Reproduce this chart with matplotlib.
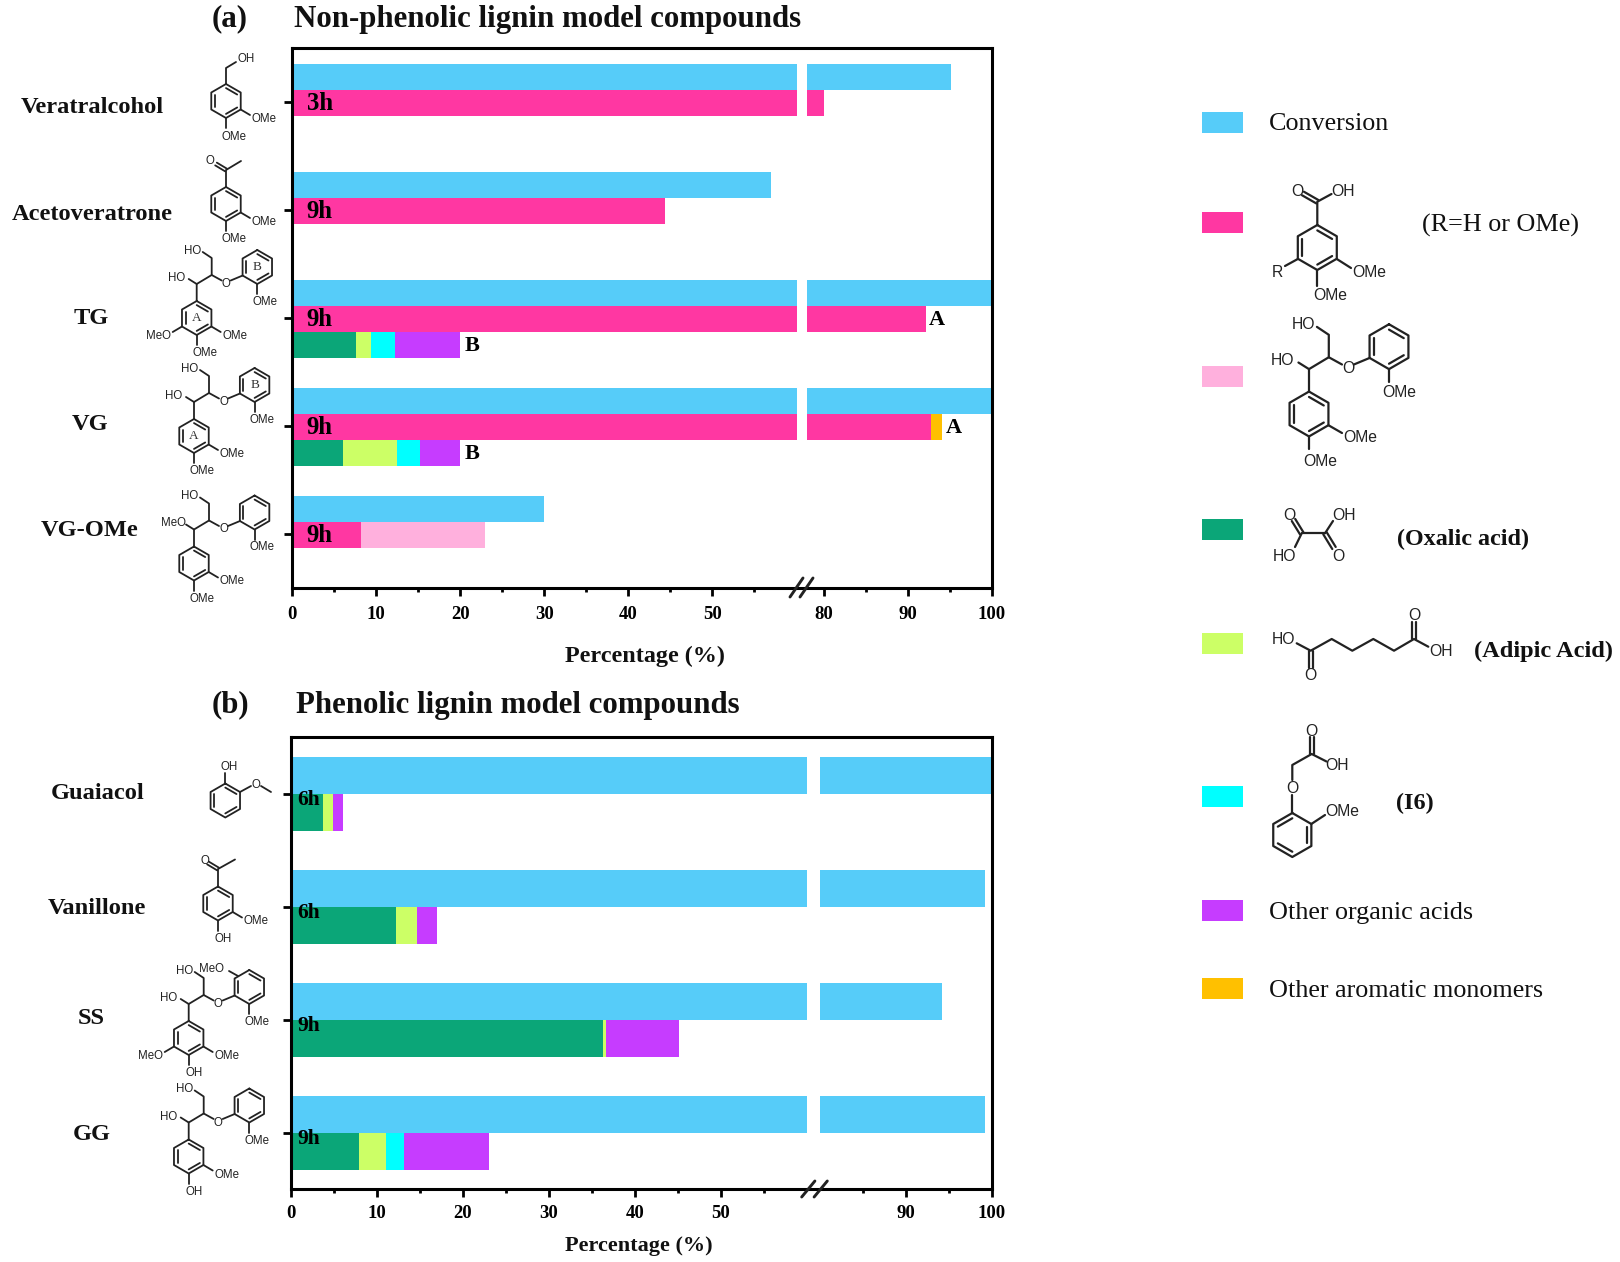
import numpy as np
import matplotlib
matplotlib.use("Agg")
import matplotlib.pyplot as plt
from matplotlib.patches import Rectangle

# ---------- data ----------
compounds_a = ["Veratralcohol", "Acetoveratrone", "TG", "VG", "VG-OMe"]
hours_a = ["3h", "9h", "9h", "9h", "9h"]
conversion_a = [95.1, 57, 100, 100, 30]
benzoic_a = [80, 44.4, 92.1, 92.7, 8.2]
dimer_a = [0, 0, 0, 0, 14.7]
aromatic_a = [0, 0, 0, 1.4, 0]
oxalic_a = [0, 0, 7.6, 6.1, 0]
adipic_a = [0, 0, 1.8, 6.4, 0]
i6_a = [0, 0, 2.8, 2.7, 0]
organic_a = [0, 0, 7.8, 4.8, 0]
tag_a = {2: ("A", "B"), 3: ("A", "B")}

compounds_b = ["Guaiacol", "Vanillone", "SS", "GG"]
hours_b = ["6h", "6h", "9h", "9h"]
conversion_b = [100, 99.2, 94.2, 99.2]
oxalic_b = [3.7, 12.2, 36.3, 7.9]
adipic_b = [1.15, 2.5, 0.3, 3.1]
i6_b = [0, 0, 0, 2.1]
organic_b = [1.15, 2.3, 8.5, 9.9]

C_CONV, C_PINK, C_LPINK, C_GREEN = "#56CCF9", "#FF37A2", "#FFB0DD", "#0BA678"
C_YEL, C_CYAN, C_PURP, C_ORNG = "#CCFF66", "#00FFFF", "#C63CFF", "#FFC000"

SERIF = "Liberation Serif"
SANS = "Liberation Sans"
plt.rcParams["font.family"] = SERIF
W, H = 1620, 1262
fig = plt.figure(figsize=(W / 100, H / 100), dpi=100, facecolor="white")


def make_axes(left, right, top, bottom):
    return fig.add_axes([left / W, 1 - bottom / H, (right - left) / W, (bottom - top) / H])


def break_scale(ax, lo, hi, gap):
    def fwd(x):
        x = np.asarray(x, dtype=float)
        return np.where(x <= lo, x, np.where(x >= hi, lo + gap + (x - hi), lo + (x - lo) * gap / (hi - lo)))

    def inv(v):
        v = np.asarray(v, dtype=float)
        return np.where(v <= lo, v, np.where(v >= lo + gap, hi + (v - lo - gap), lo + (v - lo) * (hi - lo) / gap))

    ax.set_xscale("function", functions=(fwd, inv))
    ax.set_xlim(0, 100)


def stack(ax, y, h, series):
    left = np.zeros(len(y))
    for vals, col in series:
        ax.barh(y, vals, height=h, left=left, color=col, linewidth=0, zorder=1)
        left = left + np.array(vals)
    return left


def style(ax, major, minor, n, pad):
    ax.set_ylim(n - 0.5, -0.5)
    ax.set_yticks(range(n))
    ax.set_yticklabels([])
    ax.set_xticks(major)
    ax.set_xticklabels([str(m) for m in major], fontsize=13.5, fontweight="bold")
    ax.set_xticks(minor, minor=True)
    ax.tick_params(axis="x", which="major", length=6, width=2.0, pad=pad)
    ax.tick_params(axis="x", which="minor", length=3, width=2.0)
    ax.tick_params(axis="y", which="major", length=6, width=2.0)
    for s in ax.spines.values():
        s.set_linewidth(2.2)


# ---------- panel (a) ----------
axa = make_axes(292, 992, 48, 588)
break_scale(axa, 60, 78, 1.25)
ya = np.arange(len(compounds_a), dtype=float) + 0.01
ha = 26 / 108
stack(axa, ya - ha, ha, [(conversion_a, C_CONV)])
end_a = stack(axa, ya, ha, [(benzoic_a, C_PINK), (dimer_a, C_LPINK), (aromatic_a, C_ORNG)])
end_a2 = stack(axa, ya + ha, ha, [(oxalic_a, C_GREEN), (adipic_a, C_YEL), (i6_a, C_CYAN), (organic_a, C_PURP)])
axa.axvspan(60, 78, color="white", lw=0, zorder=2)
style(axa, [0, 10, 20, 30, 40, 50, 80, 90, 100], [5, 15, 25, 35, 45, 55, 85, 95], len(compounds_a), 7)
for i, t in enumerate(hours_a):
    axa.text(1.75, i + 0.012, t, fontsize=17.8, fontweight="bold", va="center", ha="left", zorder=5)
for i, (ta, tb) in tag_a.items():
    axa.annotate(ta, (end_a[i], i + 0.015), xytext=(2.5, 0), textcoords="offset points", fontsize=16,
                 fontweight="bold", va="center", ha="left", zorder=5)
    axa.annotate(tb, (end_a2[i], i + ha + 0.015), xytext=(3, 0), textcoords="offset points", fontsize=16,
                 fontweight="bold", va="center", ha="left", zorder=5)

# ---------- panel (b) ----------
axb = make_axes(291, 992, 737, 1189)
break_scale(axb, 60, 80, 1.5)
yb = np.arange(len(compounds_b), dtype=float)
hb = 37 / 113
stack(axb, yb - hb / 2, hb, [(conversion_b, C_CONV)])
stack(axb, yb + hb / 2, hb, [(oxalic_b, C_GREEN), (adipic_b, C_YEL), (i6_b, C_CYAN), (organic_b, C_PURP)])
axb.axvspan(60, 80, color="white", lw=0, zorder=2)
style(axb, [0, 10, 20, 30, 40, 50, 90, 100], [5, 15, 25, 35, 45, 55, 85, 95], len(compounds_b), 5.5)
for i, t in enumerate(hours_b):
    axb.text(0.75, i + 0.055, t, fontsize=15.5, fontweight="bold", va="center", ha="left", zorder=5)

# ---------- overlay in pixel coordinates (titles, legend, structures) ----------
ov = fig.add_axes([0, 0, 1, 1], zorder=10)
ov.set_xlim(0, W)
ov.set_ylim(H, 0)
ov.axis("off")
ov.patch.set_alpha(0)


def T(x, y, s, fs=17.6, bold=True, ha="left", fam=SERIF):
    ov.text(x, y + 4, s, fontsize=fs, fontweight="bold" if bold else "normal", ha=ha, va="center", family=fam,
            color="#111111")


def L(*pts, lw=1.3):
    xs, ys = zip(*pts)
    ov.plot(xs, ys, color="#222222", lw=lw, solid_capstyle="round", solid_joinstyle="round")


def D(p, q, off=2.2, lw=1.3):
    """double bond"""
    p, q = np.array(p, float), np.array(q, float)
    n = np.array([-(q - p)[1], (q - p)[0]])
    n = n / np.hypot(*n) * off
    L(tuple(p + n), tuple(q + n), lw=lw)
    L(tuple(p - n), tuple(q - n), lw=lw)


def ring(cx, cy, R=17, doubles=(0, 2, 4), lw=1.3):
    a = np.deg2rad(np.arange(-90, 271, 60))
    vx, vy = cx + R * np.cos(a), cy + R * np.sin(a)
    L(*zip(vx, vy), lw=lw)
    for k in doubles:
        f = 0.76
        p = (cx + f * (vx[k] - cx), cy + f * (vy[k] - cy))
        q = (cx + f * (vx[k + 1] - cx), cy + f * (vy[k + 1] - cy))
        L(p, q, lw=lw)


def chem(x, y, s, fs=8.3, ha="center"):
    ov.text(x, y + 1, s, fontsize=fs, ha=ha, va="center", family=SANS, color="#222222")


def dimer(ax_, ay, s=1.0, alpha="HO", letters=False, fs=8.3, lw=1.3):
    P = lambda dx, dy: (ax_ + dx * s, ay + dy * s)
    ring(ax_, ay, 17 * s, doubles=(0, 2, 4), lw=lw)
    rbx, rby = P(60.6, -51)
    ring(rbx, rby, 17 * s, doubles=(0, 2, 4), lw=lw)
    L(P(0, -17), P(0, -34), P(15, -43), P(15, -60), P(6, -66), lw=lw)
    L(P(0, -34), P(-8, -39), lw=lw)
    L(P(15, -43), P(25, -37.5), lw=lw)
    L(P(34, -37.5), P(46, -42.5), lw=lw)
    L(P(60.6, -34), P(60.6, -24), lw=lw)
    chem(*P(-4, -68.5), "HO", fs)
    chem(*P(29.5, -35), "O", fs)
    chem(*P(68, -17), "OMe", fs)
    chem(*P(-20 if alpha == "HO" else -21, -41), alpha, fs)
    if letters:
        ov.text(*P(0, 0), "A", fontsize=9.5, ha="center", va="center", family=SERIF, color="#333333")
        ov.text(rbx, rby, "B", fontsize=9.5, ha="center", va="center", family=SERIF, color="#333333")


def sub_right(cx, cy, s=1.0, fs=8.3, lw=1.3):
    L((cx + 14.7 * s, cy + 8.5 * s), (cx + 24 * s, cy + 14 * s), lw=lw)
    chem(cx + 38.5 * s, cy + 17 * s, "OMe", fs)


def sub_left(cx, cy, txt="MeO", fs=8.3, lw=1.3):
    L((cx - 14.7, cy + 8.5), (cx - 24, cy + 14), lw=lw)
    chem(cx - 38.5, cy + 17, txt, fs)


def sub_bottom(cx, cy, txt="OMe", fs=8.3, s=1.0, lw=1.3, dx=8):
    L((cx, cy + 17 * s), (cx, cy + 27 * s), lw=lw)
    chem(cx + dx * s, cy + 34.5 * s, txt, fs)


# titles
T(212, 15, "(a)", 22.2)
T(294, 15, "Non-phenolic lignin model compounds", 22.2)
T(212, 701, "(b)", 22.2)
T(296, 701, "Phenolic lignin model compounds", 22.2)
T(645, 652, "Percentage (%)", 17.4, ha="center")
T(639, 1242.5, "Percentage (%)", 16, ha="center")

# category labels
cat_pos_a = [(92, 103.5), (92.5, 210), (91, 315), (90, 420.5), (90, 526)]
for name, (x, y) in zip(compounds_a, cat_pos_a):
    T(x, y, name, ha="center")
cat_pos_b = [(98, 789.5), (97, 904.5), (91, 1014.5), (92, 1131)]
for name, (x, y) in zip(compounds_b, cat_pos_b):
    T(x, y, name, ha="center")

# axis-break marks
for x, y, dx, dy in [(796.5, 587.5, 6.5, 9.5), (806.5, 587.5, 6.5, 9.5), (808.3, 1189, 6.6, 8), (820.7, 1189, 6.6, 8)]:
    L((x - dx, y + dy), (x + dx, y - dy), lw=2.1)

# legend swatches
swatches = [(112, C_CONV), (212.3, C_PINK), (366, C_LPINK), (519, C_GREEN), (632.7, C_YEL),
            (786, C_CYAN), (900.3, C_PURP), (977.7, C_ORNG)]
for y, c in swatches:
    ov.add_patch(Rectangle((1201.7, y), 41.6, 20.8, facecolor=c, edgecolor="none"))
T(1269, 120, "Conversion", 18.85, bold=False)
T(1421.7, 221.5, "(R=H or OMe)", 18.85, bold=False)
T(1396.7, 535.5, "(Oxalic acid)", 17.4)
T(1474, 647, "(Adipic Acid)", 17.6)
T(1396, 799, "(I6)", 17.4)
T(1269, 908.7, "Other organic acids", 18.85, bold=False)
T(1269, 987.3, "Other aromatic monomers", 18.85, bold=False)

# structures: panel (a)
ring(226, 101)
L((226, 84), (226, 68), (236, 62))
chem(246, 58, "OH")
sub_right(226, 101)
sub_bottom(226, 101)

ring(226, 204)
L((226, 187), (226, 170), (241, 161))
D((226, 170), (216, 164), off=1.6)
chem(210, 160, "O")
sub_right(226, 204)
sub_bottom(226, 204)

dimer(196.7, 318, letters=True)
sub_right(196.7, 318)
sub_left(196.7, 318)
sub_bottom(196.7, 318)

dimer(194, 436, letters=True)
sub_right(194, 436)
sub_bottom(194, 436)

dimer(194, 563.5, alpha="MeO")
sub_right(194, 563.5)
sub_bottom(194, 563.5)

# structures: panel (b)
ring(225.3, 800.5)
L((225.3, 783.5), (225.3, 773))
chem(229.5, 766, "OH")
L((240, 792), (251, 786))
chem(255.7, 784, "O")
L((261, 786), (271, 792))

ring(218, 903.5)
L((218, 886.5), (218, 869), (235, 859.5))
D((218, 869), (208, 863), off=1.6)
chem(204.5, 859.5, "O")
sub_right(218, 903.5)
sub_bottom(218, 903.5, "OH", dx=5)

dimer(188.7, 1038)
sub_right(188.7, 1038)
sub_left(188.7, 1038)
sub_bottom(188.7, 1038, "OH", dx=5)
L((238, 976), (229, 971))
chem(212, 968.5, "MeO")

dimer(188.7, 1156.5)
sub_right(188.7, 1156.5)
sub_bottom(188.7, 1156.5, "OH", dx=5)

# structures: legend
LW, FS = 1.6, 11.3
ring(1317.3, 247.5, 22.5, doubles=(0, 2, 4), lw=LW)
L((1317.3, 225), (1317.3, 201.7), (1331.5, 194), lw=LW)
D((1317.3, 201.7), (1303, 193.5), off=2, lw=LW)
chem(1297.3, 190, "O", FS)
chem(1343.3, 190, "OH", FS)
L((1297.8, 259), (1285, 266), lw=LW)
chem(1277, 271.7, "R", FS)
L((1336.8, 259), (1351, 268), lw=LW)
chem(1369.3, 271.7, "OMe", FS)
L((1317.3, 270), (1317.3, 286), lw=LW)
chem(1330, 294.3, "OMe", FS)

dimer(1309, 414, s=1.32, fs=FS, lw=LW)
L((1328.4, 425.2), (1342, 433), lw=LW)
chem(1360, 437, "OMe", FS)
L((1309, 436.5), (1309, 449), lw=LW)
chem(1320, 460, "OMe", FS)

L((1301.7, 533.3), (1325, 533.3), lw=LW)
D((1301.7, 533.3), (1293.5, 520), off=2, lw=LW)
D((1325, 533.3), (1334, 548), off=2, lw=LW)
L((1301.7, 533.3), (1295, 547), lw=LW)
L((1325, 533.3), (1333, 521), lw=LW)
chem(1289.3, 514, "O", FS)
chem(1344.3, 514, "OH", FS)
chem(1284, 555.7, "HO", FS)
chem(1338.3, 555.7, "O", FS)

chem(1283.3, 639, "HO", FS)
L((1296.7, 643.3), (1310.7, 650.7), (1331.7, 639), (1352.3, 650.7), (1373.3, 639), (1394, 650.7), (1414, 639),
  (1428.3, 646.7), lw=LW)
D((1310.7, 650.7), (1310.7, 668), off=2, lw=LW)
D((1414, 639), (1414, 621.5), off=2, lw=LW)
chem(1310, 675, "O", FS)
chem(1414, 615, "O", FS)
chem(1440.7, 650.7, "OH", FS)

ring(1292.3, 835, 22, doubles=(1, 3, 5), lw=LW)
L((1292.3, 813), (1292.3, 795), lw=LW)
chem(1292.3, 787.3, "O", FS)
L((1292.3, 780), (1292.3, 765), (1311.7, 754), (1326.5, 761.5), lw=LW)
D((1311.7, 754), (1311.7, 736.7), off=2, lw=LW)
chem(1311.7, 730.7, "O", FS)
chem(1337.3, 765, "OH", FS)
L((1311.3, 824), (1325, 815), lw=LW)
chem(1342.3, 811, "OMe", FS)

fig.savefig("out.png", dpi=100)
